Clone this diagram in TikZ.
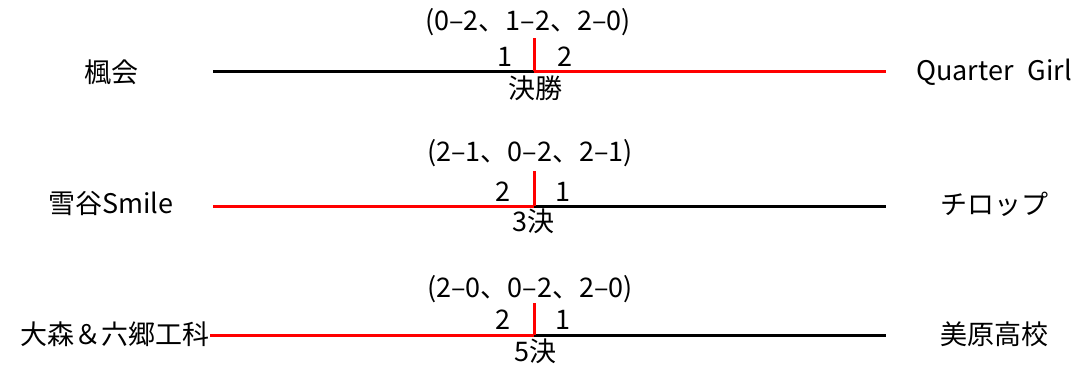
\documentclass[tikz,border=0pt]{standalone}
\usepackage{fontspec}
\setmainfont{Noto Sans CJK JP}
\begin{document}
\begin{tikzpicture}[x=1pt,y=-1pt,
  txt/.style={inner sep=0pt,font=\fontsize{27}{27}\selectfont},
  win/.style={draw=red,line width=3pt},
  lose/.style={draw=black,line width=3pt}]
\useasboundingbox (0,0) rectangle (1075,365);
% row 1
\node[txt] (n1l) at (111,72) {楓会};
\node[txt] (n1r) at (994,72) {Quarter\hspace{14pt}Girl};
\coordinate (a1) at (213,71); \coordinate (m1) at (534,71); \coordinate (b1) at (886,71);
\coordinate (t1) at (534,38);
\draw[lose] (a1) -- (m1);
\draw[win] (m1) -- (b1);
\draw[win] (m1) -- (t1);
\node[txt] (p1) at (528,22) {(0–2、1–2、2–0)};
\node[txt] (s1a) at (505,57) {1};
\node[txt] (s1b) at (565,57) {2};
\node[txt] (r1) at (535,88) {決勝};
% row 2
\node[txt] (n2l) at (111,204) {雪谷Smile};
\node[txt] (n2r) at (994,204) {チロップ};
\coordinate (a2) at (213,206); \coordinate (m2) at (534,206); \coordinate (b2) at (886,206);
\coordinate (t2) at (534,171);
\draw[win] (a2) -- (m2);
\draw[lose] (m2) -- (b2);
\draw[win] (m2) -- (t2);
\node[txt] (p2) at (530,153) {(2–1、0–2、2–1)};
\node[txt] (s2a) at (503,192) {2};
\node[txt] (s2b) at (563,192) {1};
\node[txt] (r2) at (533,221) {3決};
% row 3
\node[txt,anchor=east] (n3l) at (210,334) {大森＆六郷工科};
\node[txt] (n3r) at (994,334) {美原高校};
\coordinate (a3) at (n3l.east |- 0,335); \coordinate (m3) at (534,335); \coordinate (b3) at (886,335);
\coordinate (t3) at (534,303);
\draw[win] (a3) -- (m3);
\draw[lose] (m3) -- (b3);
\draw[win] (m3) -- (t3);
\node[txt] (p3) at (530,289) {(2–0、0–2、2–0)};
\node[txt] (s3a) at (503,320) {2};
\node[txt] (s3b) at (563,320) {1};
\node[txt] (r3) at (535,351) {5決};
\end{tikzpicture}
\end{document}
